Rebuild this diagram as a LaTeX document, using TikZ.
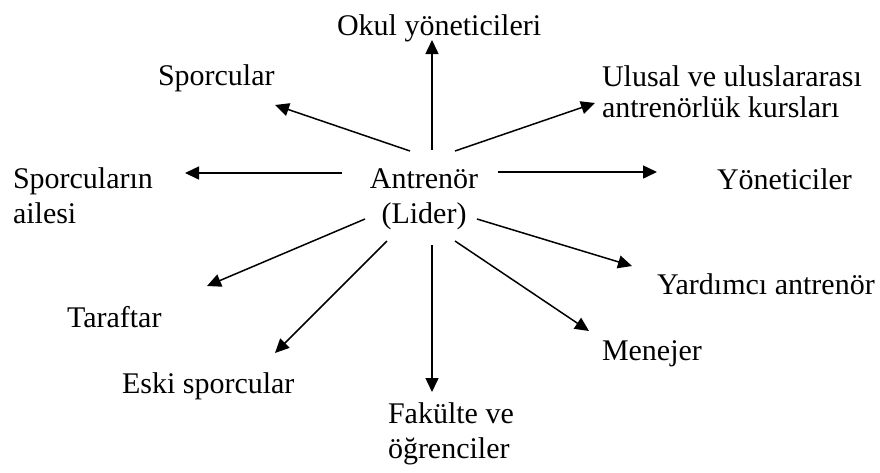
\documentclass[tikz,border=0pt]{standalone}
\usepackage{fontspec}
\setmainfont{Liberation Serif}
\usetikzlibrary{arrows.meta}
\begin{document}
\begin{tikzpicture}[x=1pt,y=-1pt,
  lbl/.style={inner sep=0pt,outer sep=0pt,font=\fontsize{30}{35}\selectfont},
  arr/.style={line width=1.5pt,-{Triangle[length=14pt,width=13pt]}}]
\useasboundingbox (0,0) rectangle (880,472);
% labels (multi-line nodes: base = last line)
\node[lbl,anchor=base west] (okul) at (337,35) {Okul yöneticileri};
\node[lbl,anchor=base west] (spor) at (158,85) {Sporcular};
\node[lbl,anchor=base west,align=left,font=\fontsize{30}{30.5}\selectfont] (ulusal) at (602,117) {Ulusal ve uluslararası\\antrenörlük kursları};
\node[lbl,anchor=base west,align=left] (aile) at (13,223) {Sporcuların\\ailesi};
\node[lbl,anchor=base,align=center] (lider) at (424,223) {Antrenör\\(Lider)};
\node[lbl,anchor=base west] (yon) at (717,189) {Yöneticiler};
\node[lbl,anchor=base west] (yard) at (657,294) {Yardımcı antrenör};
\node[lbl,anchor=base west] (men) at (602,360) {Menejer};
\node[lbl,anchor=base west,align=left] (fak) at (388,458) {Fakülte ve\\öğrenciler};
\node[lbl,anchor=base west] (eski) at (122,393) {Eski sporcular};
\node[lbl,anchor=base west] (tar) at (67,327) {Taraftar};
% arrow ends
\coordinate (s1) at (432,150); \coordinate (t1) at (432,40);
\coordinate (s2) at (410,151); \coordinate (t2) at (275,105);
\coordinate (s3) at (455,151); \coordinate (t3) at (595,103);
\coordinate (s4) at (342,173); \coordinate (t4) at (185,173);
\coordinate (s5) at (498,172); \coordinate (t5) at (657,172);
\coordinate (s6) at (365,219); \coordinate (t6) at (207,286);
\coordinate (s7) at (387,241); \coordinate (t7) at (275,353);
\coordinate (s8) at (432,245); \coordinate (t8) at (432,392);
\coordinate (s9) at (455,241); \coordinate (t9) at (589,331);
\coordinate (s10) at (477,219); \coordinate (t10) at (632,266);
\foreach \i in {1,...,10} {\draw[arr] (s\i) -- (t\i);}
\end{tikzpicture}
\end{document}
